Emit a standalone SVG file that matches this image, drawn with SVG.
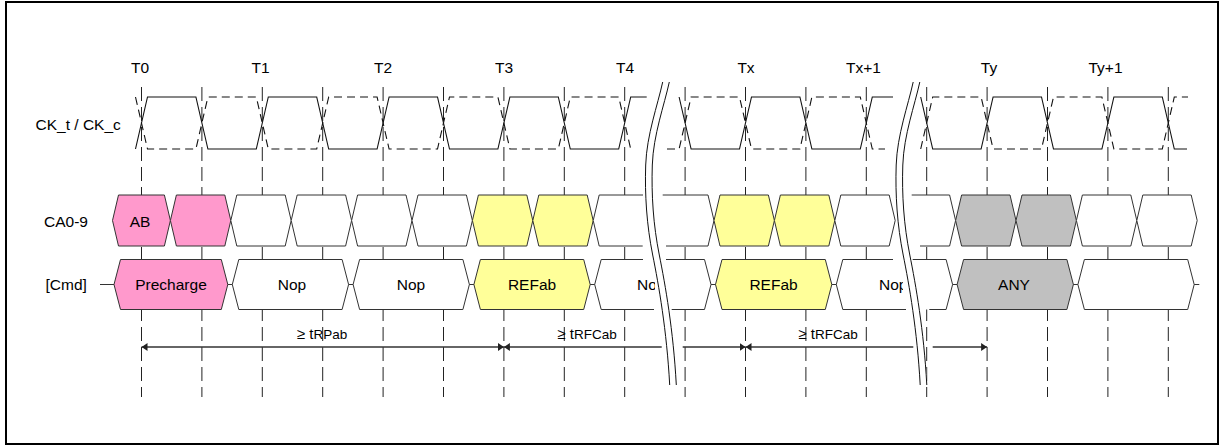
<svg xmlns="http://www.w3.org/2000/svg" width="1221" height="447" viewBox="0 0 1221 447">
<style>
text{font-family:"Liberation Sans",Arial,sans-serif;fill:#000}
.t{font-size:15.5px}
.c{text-anchor:middle}
.tm{font-size:15px;text-anchor:middle}
.sub{font-size:13.5px}
.grid{stroke:#222;stroke-width:1;stroke-dasharray:14 6;fill:none}
.ck{stroke:#111;stroke-width:1.1;fill:none}
.ckc{stroke:#111;stroke-width:1.1;fill:none;stroke-dasharray:8 5}
.hex{stroke:#333;stroke-width:1}
.w{fill:#fff}
.pk{fill:#FF99CC}
.yl{fill:#FFFF99}
.gy{fill:#C0C0C0}
.open{fill:none;stroke:#333;stroke-width:1}
.wf{fill:#fff;stroke:none}
.bus{stroke:#333;stroke-width:1;fill:none}
.arr{stroke:#333;stroke-width:1.3;fill:none}
.brk{stroke:#111;stroke-width:1;fill:none}
.brkw{stroke:#fff;stroke-width:8;fill:none}
</style>
<defs>
<marker id="ah" viewBox="0 0 6 8" refX="6" refY="4" markerWidth="6" markerHeight="8" markerUnits="userSpaceOnUse" orient="auto-start-reverse">
<path d="M0,0 L6,4 L0,8 z" fill="#222"/>
</marker>
<clipPath id="clip1"><rect x="0" y="260" width="655" height="50"/></clipPath>
<clipPath id="clip2"><rect x="700" y="260" width="203" height="50"/></clipPath>
<path id="brkc" d="M666,82 C661,105 650,135 649,165 C648,195 650,225 656,255 C662,285 670,330 673,385"/>
</defs>

<rect x="6" y="2" width="1212" height="442" fill="#fff" stroke="#000" stroke-width="2"/>

<g id="grid">
<path class="grid" d="M141.5,87V397M201.9,87V397M262.3,87V397M322.7,87V397M383.1,87V397M443.5,87V397M503.9,87V397M564.3,87V397M624.7,87V397M685.1,87V397M745.5,87V397M805.9,87V397M866.3,87V397M926.7,87V397M987.1,87V397M1047.5,87V397M1107.9,87V397M1168.3,87V397"/>
</g>

<g id="time-labels">
<text class="t c" x="140" y="73">T0</text>
<text class="t c" x="260.5" y="73">T1</text>
<text class="t c" x="383" y="73">T2</text>
<text class="t c" x="504" y="73">T3</text>
<text class="t c" x="625" y="73">T4</text>
<text class="t c" x="746" y="73">Tx</text>
<text class="t c" x="863.5" y="73">Tx+1</text>
<text class="t c" x="989" y="73">Ty</text>
<text class="t c" x="1105.5" y="73">Ty+1</text>
</g>

<g id="row-labels">
<text class="t" x="35.5" y="129.5">CK_t / CK_c</text>
<text class="t" x="44" y="226.5">CA0-9</text>
<text class="t" x="45.5" y="290">[Cmd]</text>
</g>

<g id="clock">
<path class="ck" d="M135.5,149 L147.5,97 L195.9,97 L207.9,149 L256.3,149 L268.3,97 L316.7,97 L328.7,149 L377.1,149 L389.1,97 L437.5,97 L449.5,149 L497.9,149 L509.9,97 L558.3,97 L570.3,149 L618.7,149 L630.7,97 L646.7,97"/>
<path class="ckc" d="M135.5,97 L147.5,149 L195.9,149 L207.9,97 L256.3,97 L268.3,149 L316.7,149 L328.7,97 L377.1,97 L389.1,149 L437.5,149 L449.5,97 L497.9,97 L509.9,149 L558.3,149 L570.3,97 L618.7,97 L630.7,149"/>
<path class="ck" d="M679.1,97 L691.1,149 L739.5,149 L751.5,97 L799.9,97 L811.9,149 L860.3,149 L872.3,97 L893,97"/>
<path class="ckc" d="M667,149 L679.1,149 L691.1,97 L739.5,97 L751.5,149 L799.9,149 L811.9,97 L860.3,97 L872.3,149 L885,149"/>
<path class="ck" d="M920.7,97 L932.7,149 L981.1,149 L993.1,97 L1041.5,97 L1053.5,149 L1101.9,149 L1113.9,97 L1162.3,97 L1174.3,149 L1187,149"/>
<path class="ckc" d="M920.7,149 L932.7,97 L981.1,97 L993.1,149 L1041.5,149 L1053.5,97 L1101.9,97 L1113.9,149 L1162.3,149 L1174.3,97 L1188,97"/>
</g>

<g id="ca-row">
<g id="ca0"><polygon class="hex pk" points="112.5,220.5 118.5,195 164.4,195 170.4,220.5 164.4,246 118.5,246"/><text class="t c" x="140" y="226.5">AB</text></g>
<g id="ca1"><polygon class="hex pk" points="170.4,220.5 176.4,195 224.8,195 230.8,220.5 224.8,246 176.4,246"/></g>
<g id="ca2"><polygon class="hex w" points="230.8,220.5 236.8,195 285.2,195 291.2,220.5 285.2,246 236.8,246"/></g>
<g id="ca3"><polygon class="hex w" points="291.2,220.5 297.2,195 345.6,195 351.6,220.5 345.6,246 297.2,246"/></g>
<g id="ca4"><polygon class="hex w" points="351.6,220.5 357.6,195 406,195 412,220.5 406,246 357.6,246"/></g>
<g id="ca5"><polygon class="hex w" points="412,220.5 418,195 466.4,195 472.4,220.5 466.4,246 418,246"/></g>
<g id="ca6"><polygon class="hex yl" points="472.4,220.5 478.4,195 526.8,195 532.8,220.5 526.8,246 478.4,246"/></g>
<g id="ca7"><polygon class="hex yl" points="532.8,220.5 538.8,195 587.2,195 593.2,220.5 587.2,246 538.8,246"/></g>
<g id="ca8"><polygon class="wf" points="599.2,195 593.2,220.5 599.2,246 655,246 655,195"/><path class="open" d="M643,195 L599.2,195 L593.2,220.5 L599.2,246 L642.7,246"/></g>
<g id="ca9"><polygon class="wf" points="655,195 708,195 714,220.5 708,246 655,246"/><path class="open" d="M662.7,195 L708,195 L714,220.5 L708,246 L666,246"/></g>
<g id="ca10"><polygon class="hex yl" points="714,220.5 720,195 768.4,195 774.4,220.5 768.4,246 720,246"/></g>
<g id="ca11"><polygon class="hex yl" points="774.4,220.5 780.4,195 828.8,195 834.8,220.5 828.8,246 780.4,246"/></g>
<g id="ca12"><polygon class="hex w" points="834.8,220.5 840.8,195 889.2,195 895.2,220.5 889.2,246 840.8,246"/></g>
<g id="ca13"><polygon class="wf" points="904,195 949.6,195 955.6,220.5 949.6,246 904,246"/><path class="open" d="M911.7,195 L949.6,195 L955.6,220.5 L949.6,246 L920,246"/></g>
<g id="ca14"><polygon class="hex gy" points="955.6,220.5 961.6,195 1010,195 1016,220.5 1010,246 961.6,246"/></g>
<g id="ca15"><polygon class="hex gy" points="1016,220.5 1022,195 1070.4,195 1076.4,220.5 1070.4,246 1022,246"/></g>
<g id="ca16"><polygon class="hex w" points="1076.4,220.5 1082.4,195 1130.8,195 1136.8,220.5 1130.8,246 1082.4,246"/></g>
<g id="ca17"><polygon class="hex w" points="1136.8,220.5 1142.8,195 1191.2,195 1197.2,220.5 1191.2,246 1142.8,246"/></g>
</g>

<g id="cmd-row">
<path class="bus" d="M100,284.5 H1199.3"/>
<g id="cmd-precharge"><polygon class="hex pk" points="114,284.5 120.5,259.5 221.3,259.5 227.8,284.5 221.3,309.5 120.5,309.5"/><text class="t c" x="171" y="290">Precharge</text></g>
<g id="cmd-nop1"><polygon class="hex w" points="232.3,284.5 238.8,259.5 342.1,259.5 348.6,284.5 342.1,309.5 238.8,309.5"/><text class="t c" x="292" y="290">Nop</text></g>
<g id="cmd-nop2"><polygon class="hex w" points="353.1,284.5 359.6,259.5 462.9,259.5 469.4,284.5 462.9,309.5 359.6,309.5"/><text class="t c" x="411" y="290">Nop</text></g>
<g id="cmd-refab1"><polygon class="hex yl" points="473.9,284.5 480.4,259.5 583.7,259.5 590.2,284.5 583.7,309.5 480.4,309.5"/><text class="t c" x="532" y="290">REFab</text></g>
<g id="cmd-nop3"><polygon class="wf" points="601.2,259.5 594.7,284.5 601.2,309.5 662,309.5 662,259.5"/><path class="open" d="M643,259.5 L601.2,259.5 L594.7,284.5 L601.2,309.5 L654,309.5"/><text class="t" x="637" y="290" clip-path="url(#clip1)">Nop</text></g>
<g id="cmd-seg2a"><polygon class="wf" points="660,259.5 704.5,259.5 711,284.5 704.5,309.5 660,309.5"/><path class="open" d="M666,259.5 L704.5,259.5 L711,284.5 L704.5,309.5 L671.7,309.5"/></g>
<g id="cmd-refab2"><polygon class="hex yl" points="715.5,284.5 722,259.5 825.3,259.5 831.8,284.5 825.3,309.5 722,309.5"/><text class="t c" x="773.5" y="290">REFab</text></g>
<g id="cmd-nop4"><polygon class="wf" points="842.8,259.5 836.3,284.5 842.8,309.5 912,309.5 912,259.5"/><path class="open" d="M893,259.5 L842.8,259.5 L836.3,284.5 L842.8,309.5 L906,309.5"/><text class="t" x="879" y="290" clip-path="url(#clip2)">Nop</text></g>
<g id="cmd-seg3a"><polygon class="wf" points="908,259.5 946.1,259.5 952.6,284.5 946.1,309.5 908,309.5"/><path class="open" d="M912.7,259.5 L946.1,259.5 L952.6,284.5 L946.1,309.5 L929.3,309.5"/></g>
<g id="cmd-any"><polygon class="hex gy" points="957.1,284.5 963.6,259.5 1066.9,259.5 1073.4,284.5 1066.9,309.5 963.6,309.5"/><text class="t c" x="1014" y="290">ANY</text></g>
<g id="cmd-last"><polygon class="hex w" points="1077.9,284.5 1084.4,259.5 1187.7,259.5 1194.2,284.5 1187.7,309.5 1084.4,309.5"/></g>
</g>

<g id="connectors">
<path class="arr" d="M141.5,347 H503.9" marker-start="url(#ah)" marker-end="url(#ah)"/>
<path class="arr" d="M503.9,347 H661.7" marker-start="url(#ah)"/>
<path class="arr" d="M682.7,347 H745.5" marker-end="url(#ah)"/>
<path class="arr" d="M745.5,347 H913.3" marker-start="url(#ah)"/>
<path class="arr" d="M932.7,347 H987.1" marker-end="url(#ah)"/>
<text class="tm" x="322" y="339">≥ t<tspan class="sub">RPab</tspan></text>
<text class="tm" x="587" y="339">≥ t<tspan class="sub">RFCab</tspan></text>
<text class="tm" x="828" y="339">≥ t<tspan class="sub">RFCab</tspan></text>
</g>

<g id="break1">
<use href="#brkc" class="brkw"/>
<use href="#brkc" class="brk" transform="translate(-3.3,0)"/>
<use href="#brkc" class="brk" transform="translate(3.3,0)"/>
</g>
<g id="break2" transform="translate(250.5,0)">
<use href="#brkc" class="brkw"/>
<use href="#brkc" class="brk" transform="translate(-3.3,0)"/>
<use href="#brkc" class="brk" transform="translate(3.3,0)"/>
</g>
</svg>
